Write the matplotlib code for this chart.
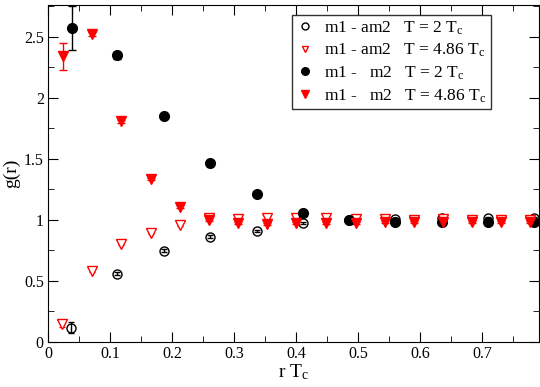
import matplotlib
matplotlib.use("Agg")
import matplotlib.pyplot as plt
from matplotlib.ticker import MultipleLocator
from matplotlib.lines import Line2D

plt.rcParams['font.family'] = ['Liberation Serif', 'DejaVu Serif']
plt.rcParams['mathtext.fontset'] = 'custom'
plt.rcParams['mathtext.rm'] = 'Liberation Serif'
plt.rcParams['mathtext.it'] = 'Liberation Serif'

# m1 - am2, T = 2 Tc (open black circles)
x_a2 = [0.037, 0.112, 0.187, 0.261, 0.337, 0.411, 0.486, 0.560, 0.635, 0.709, 0.784]
y_a2 = [0.117, 0.560, 0.748, 0.863, 0.910, 0.973, 1.000, 1.005, 1.014, 1.019, 1.014]
e_a2 = [0.045, 0.015, 0.012, 0.010, 0.010, 0.008, 0.008, 0.008, 0.008, 0.008, 0.008]

# m1 - am2, T = 4.86 Tc (open red triangles)
x_a4 = [0.023, 0.071, 0.118, 0.166, 0.213, 0.260, 0.306, 0.354, 0.400, 0.448,
        0.497, 0.544, 0.590, 0.637, 0.684, 0.731, 0.778]
y_a4 = [0.145, 0.584, 0.803, 0.891, 0.962, 1.014, 1.010, 1.019, 1.014, 1.014,
        1.010, 1.005, 1.000, 1.005, 1.000, 1.000, 1.000]
e_a4 = [0.02, 0.01, 0.01, 0.01, 0.01, 0.01, 0.01, 0.01, 0.01, 0.01,
        0.01, 0.01, 0.01, 0.01, 0.01, 0.01, 0.01]

# m1 - m2, T = 2 Tc (filled black circles)
x_m2 = [0.038, 0.112, 0.187, 0.261, 0.337, 0.411, 0.486, 0.560, 0.635, 0.709, 0.784]
y_m2 = [2.571, 2.347, 1.852, 1.470, 1.213, 1.060, 1.000, 0.986, 0.980, 0.986, 0.980]
e_m2 = [0.180, 0.030, 0.010, 0.010, 0.010, 0.008, 0.008, 0.008, 0.008, 0.008, 0.008]

# m1 - m2, T = 4.86 Tc (filled red triangles)
x_m4 = [0.024, 0.071, 0.118, 0.166, 0.213, 0.260, 0.306, 0.354, 0.400, 0.448,
        0.497, 0.544, 0.590, 0.637, 0.684, 0.731, 0.778]
y_m4 = [2.340, 2.520, 1.806, 1.336, 1.109, 1.000, 0.978, 0.965, 0.973, 0.978,
        0.973, 0.986, 0.986, 0.986, 0.986, 0.986, 0.986]
e_m4 = [0.110, 0.015, 0.010, 0.010, 0.010, 0.008, 0.008, 0.008, 0.008, 0.008,
        0.008, 0.008, 0.008, 0.008, 0.008, 0.008, 0.008]

labels = [r"m1 - am2   T = 2 T$_{\rm c}$",
          r"m1 - am2   T = 4.86 T$_{\rm c}$",
          r"m1 -   m2   T = 2 T$_{\rm c}$",
          r"m1 -   m2   T = 4.86 T$_{\rm c}$"]
xticks = [0, 0.1, 0.2, 0.3, 0.4, 0.5, 0.6, 0.7]
xticklabels = ['0', '0.1', '0.2', '0.3', '0.4', '0.5', '0.6', '0.7']
yticks = [0, 0.5, 1, 1.5, 2, 2.5]
yticklabels = ['0', '0.5', '1', '1.5', '2', '2.5']

fig = plt.figure(figsize=(5.4, 3.87), dpi=100)
ax = fig.add_axes([48/540, 1-342/387, (539-48)/540, (342-5)/387])

ax.errorbar(x_a2, y_a2, yerr=e_a2, fmt='o', ms=6.5, mfc='none', mec='black', mew=1.0,
            ecolor='black', elinewidth=1, capsize=2, zorder=3)
ax.errorbar(x_a4, y_a4, yerr=e_a4, fmt='v', ms=6.5, mfc='white', mec='red', mew=1.0,
            ecolor='red', elinewidth=1, capsize=2, zorder=3)
ax.errorbar(x_m2, y_m2, yerr=e_m2, fmt='o', ms=7, mfc='black', mec='black',
            ecolor='black', elinewidth=1, capsize=3, zorder=4)
ax.errorbar(x_m4, y_m4, yerr=e_m4, fmt='v', ms=7, mfc='red', mec='red',
            ecolor='red', elinewidth=1, capsize=3, zorder=4)

handles = [
    Line2D([], [], ls='none', marker='o', ms=5, mfc='none', mec='black', mew=1.0),
    Line2D([], [], ls='none', marker='v', ms=5, mfc='white', mec='red', mew=1.0),
    Line2D([], [], ls='none', marker='o', ms=5.5, mfc='black', mec='black'),
    Line2D([], [], ls='none', marker='v', ms=5.5, mfc='red', mec='red'),
]

ax.set_xlim(0, 0.792)
ax.set_ylim(0, 2.76)
ax.xaxis.set_minor_locator(MultipleLocator(0.05))
ax.yaxis.set_minor_locator(MultipleLocator(0.25))
ax.set_xticks(xticks)
ax.set_xticklabels(xticklabels)
ax.set_yticks(yticks)
ax.set_yticklabels(yticklabels)
ax.tick_params(which='both', direction='in', top=True, right=True, labelsize=11.5, pad=3)
ax.tick_params(which='major', length=7)
ax.tick_params(which='minor', length=4)

ax.set_xlabel(r"r T$_{\rm c}$", fontsize=14, labelpad=0)
ax.set_ylabel("g(r)", fontsize=14, labelpad=3)

leg = ax.legend(handles, labels, loc='upper left', bbox_to_anchor=((292-48)/491, (342-15)/337),
                fontsize=12.5, frameon=True, fancybox=False, edgecolor='black',
                handletextpad=0.6, borderpad=0.25, labelspacing=0.3, handlelength=1.0,
                borderaxespad=0)
leg.get_frame().set_linewidth(1.0)

fig.savefig("out.png", dpi=100)
